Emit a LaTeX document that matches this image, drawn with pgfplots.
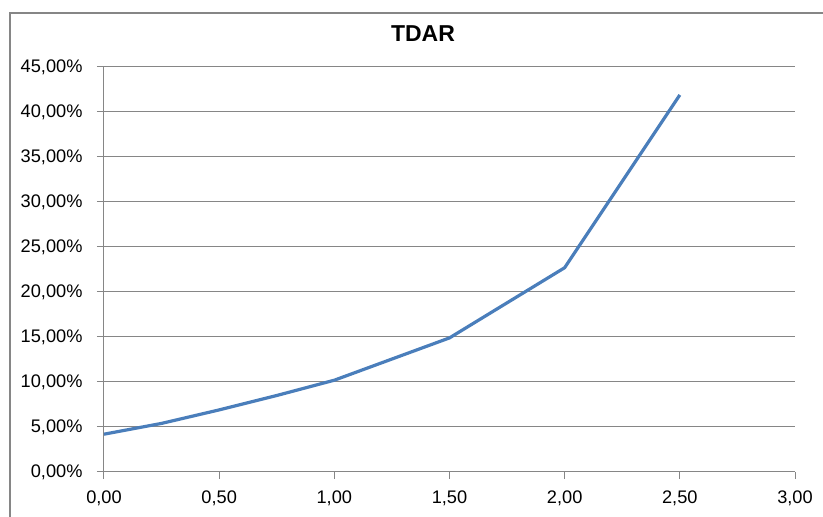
\documentclass[border=0pt]{standalone}
\usepackage{fontspec}
\setmainfont{Liberation Sans}
\usepackage{pgfplots}
\pgfplotsset{compat=1.18}
\definecolor{linecol}{HTML}{4A7EBB}
\definecolor{gridcol}{HTML}{868686}
\begin{document}
\begin{tikzpicture}
\useasboundingbox (-104pt,-45pt) rectangle (719pt,472pt);
\draw[gridcol, line width=2pt] (-94pt,-46pt) -- (-94pt,459pt) -- (720pt,459pt);
\begin{axis}[
  at={(0pt,0pt)}, anchor=south west,
  scale only axis, width=691pt, height=405pt,
  xmin=0, xmax=3, ymin=0, ymax=45,
  xtick={0,0.5,1,1.5,2,2.5,3},
  ytick={0,5,10,15,20,25,30,35,40,45},
  axis lines*=left,
  axis line style={gridcol, line width=1pt, -},
  tick style={gridcol, line width=1pt},
  tick align=outside,
  major tick length=7pt,
  ymajorgrids,
  grid style={gridcol, line width=1pt},
  /pgf/number format/assume math mode=true,
  /pgf/number format/.cd, fixed, fixed zerofill, precision=2, use comma, 1000 sep={},
  /pgfplots/.cd,
  yticklabel={\pgfmathprintnumber{\tick}\%},
  ticklabel style={font=\fontsize{18.2}{20}\selectfont, text=black},
  yticklabel style={xshift=-11pt},
  xticklabel style={yshift=-8pt},
  clip=false,
]
\addplot[linecol, line width=3.2pt, line join=round] coordinates {
  (0,4.2) (0.25,5.4) (0.5,6.9) (0.75,8.5) (1.0,10.2) (1.5,14.9) (2.0,22.7) (2.5,41.9)
};
\end{axis}
\node[font=\fontsize{23}{26}\selectfont\bfseries] at (319pt,438pt) {TDAR};
\end{tikzpicture}
\end{document}
